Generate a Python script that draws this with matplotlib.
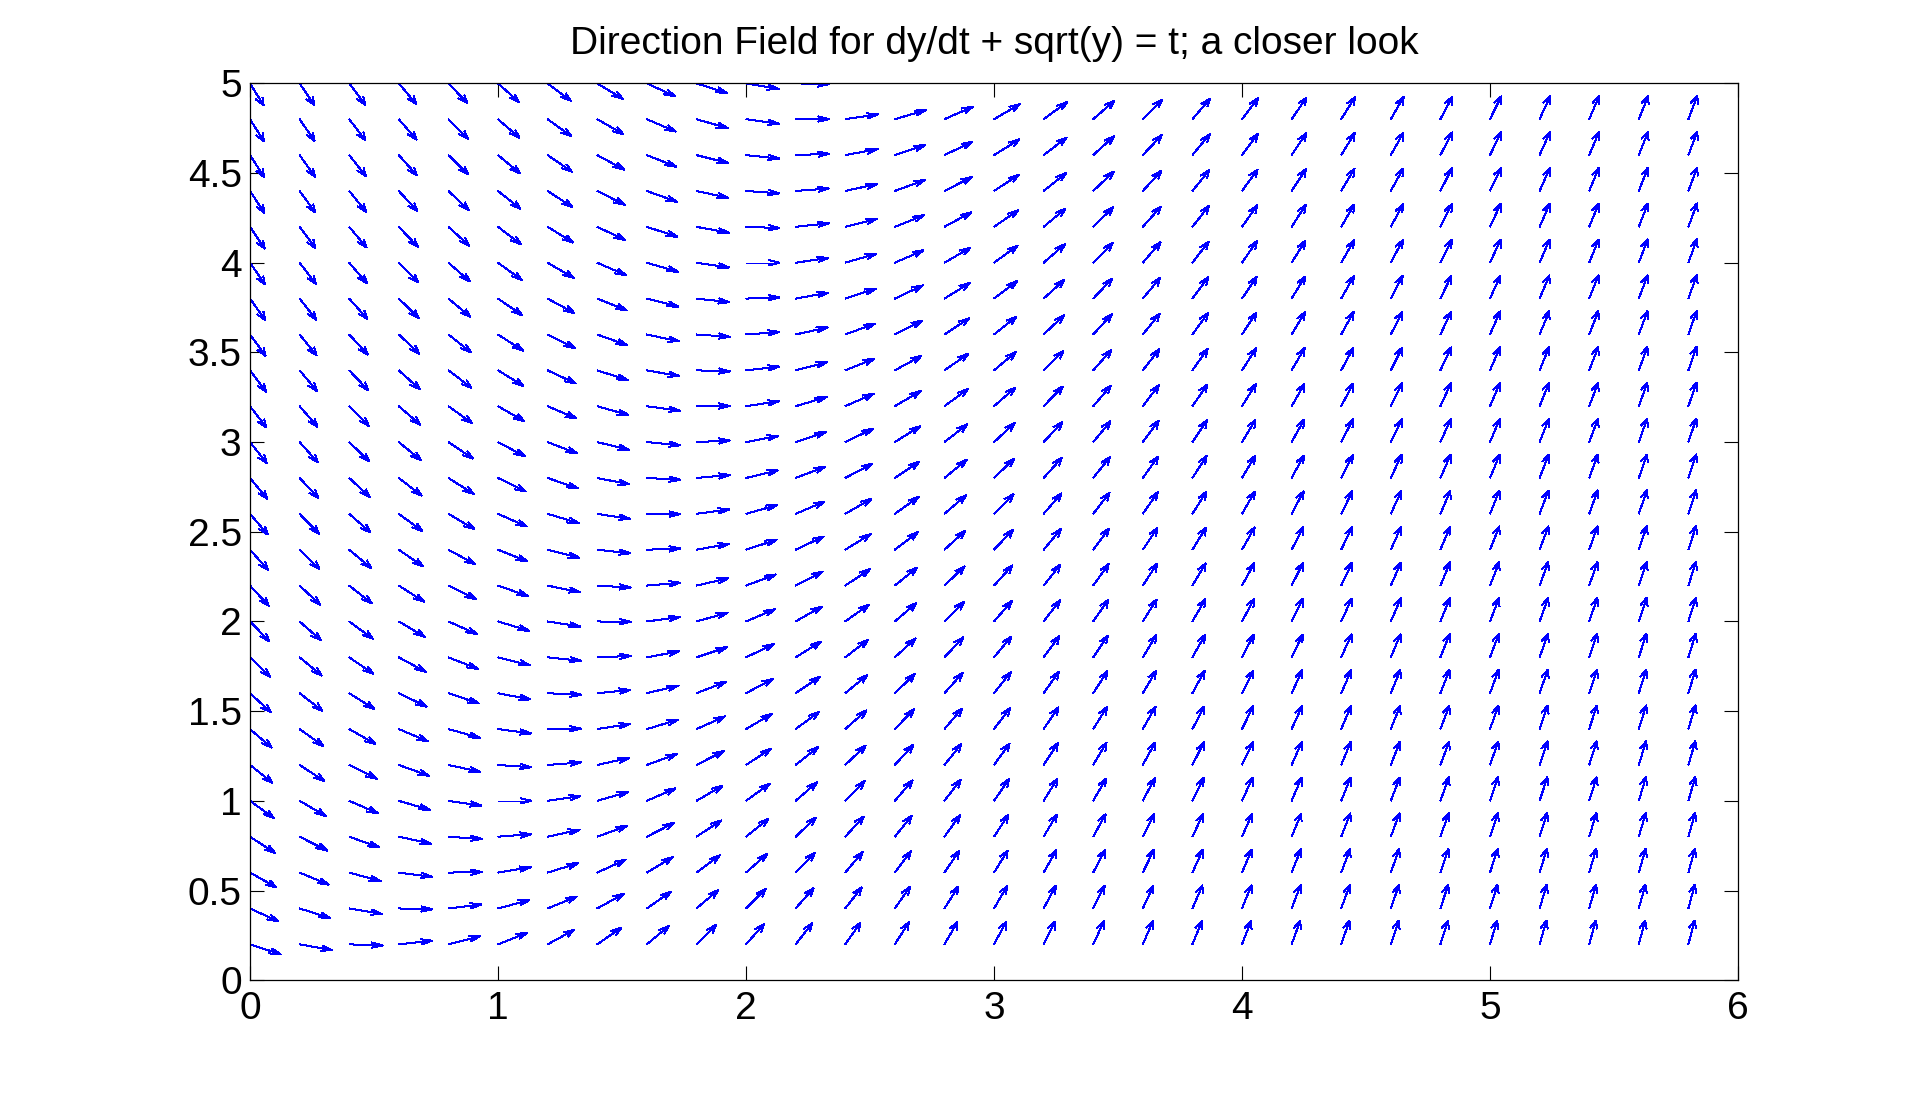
import numpy as np
import matplotlib
matplotlib.use("Agg")
import matplotlib.pyplot as plt
from matplotlib.collections import LineCollection

# Grid of the direction field (t across, y up)
t_values = [0.0, 0.2, 0.4, 0.6, 0.8, 1.0, 1.2, 1.4, 1.6, 1.8, 2.0, 2.2, 2.4, 2.6, 2.8,
            3.0, 3.2, 3.4, 3.6, 3.8, 4.0, 4.2, 4.4, 4.6, 4.8, 5.0, 5.2, 5.4, 5.6, 5.8]
y_values = [0.2, 0.4, 0.6, 0.8, 1.0, 1.2, 1.4, 1.6, 1.8, 2.0, 2.2, 2.4, 2.6, 2.8, 3.0,
            3.2, 3.4, 3.6, 3.8, 4.0, 4.2, 4.4, 4.6, 4.8, 5.0]
x_ticks = [0, 1, 2, 3, 4, 5, 6]
x_tick_labels = ["0", "1", "2", "3", "4", "5", "6"]
y_ticks = [0, 0.5, 1, 1.5, 2, 2.5, 3, 3.5, 4, 4.5, 5]
y_tick_labels = ["0", "0.5", "1", "1.5", "2", "2.5", "3", "3.5", "4", "4.5", "5"]
title_text = "Direction Field for dy/dt + sqrt(y) = t; a closer look"

plt.rcParams['font.family'] = ['Liberation Sans', 'DejaVu Sans']

T, Y = np.meshgrid(np.array(t_values), np.array(y_values))
S = T - np.sqrt(Y)               # dy/dt = t - sqrt(y)
L = np.sqrt(1 + S ** 2)
arrow_len = 0.135
U = arrow_len / L
V = arrow_len * S / L

# MATLAB-style quiver arrowheads
alpha, beta, eps = 0.33, 0.33, 1e-12
tipx = T + U
tipy = Y + V
upx = tipx - alpha * (U + beta * (V + eps))
upy = tipy - alpha * (V - beta * (U + eps))
umx = tipx - alpha * (U - beta * (V + eps))
umy = tipy - alpha * (V + beta * (U + eps))

segs = []
for a, b, c, d, e, f, g, h in zip(T.ravel(), Y.ravel(), tipx.ravel(), tipy.ravel(),
                                  upx.ravel(), upy.ravel(), umx.ravel(), umy.ravel()):
    segs.append([(a, b), (c, d)])
    segs.append([(e, f), (c, d), (g, h)])

fig = plt.figure(figsize=(19.2, 11.01), dpi=100)
ax = fig.add_axes([0.1302, 0.1097, 0.7750, 0.8146])
lc = LineCollection(segs, colors=(0, 0, 1), linewidths=0.72, antialiaseds=False)
ax.add_collection(lc)

ax.set_xlim(0, 6)
ax.set_ylim(0, 5)
ax.set_xticks(x_ticks)
ax.set_xticklabels(x_tick_labels)
ax.set_yticks(y_ticks)
ax.set_yticklabels(y_tick_labels)
ax.tick_params(direction='in', length=10, width=0.8, top=True, right=True,
               labelsize=28, pad=8)
ax.tick_params(axis='y', pad=6)
for s in ax.spines.values():
    s.set_linewidth(0.9)
ax.set_title(title_text, fontsize=28, pad=21)

fig.savefig("out.png", dpi=100, facecolor='white')
